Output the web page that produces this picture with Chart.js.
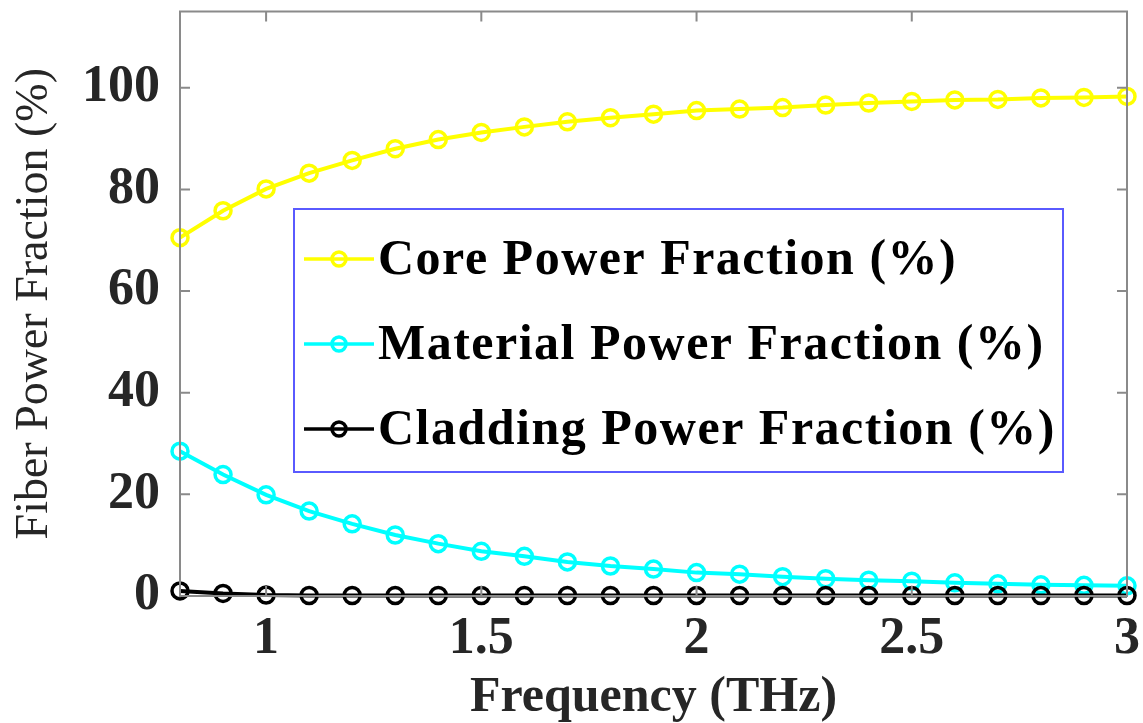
<!DOCTYPE html>
<html>
<head>
<meta charset="utf-8">
<script src="https://cdn.jsdelivr.net/npm/chart.js@4.4.1/dist/chart.umd.min.js"></script>
<style>
  body { margin: 0; background: #fff; }
  #wrap { width: 1143px; height: 723px; }
</style>
</head>
<body>
<div id="wrap"><canvas id="fractionChart" width="1143" height="723"></canvas></div>
<script>
// Data
const frequency = [0.8, 0.9, 1.0, 1.1, 1.2, 1.3, 1.4, 1.5, 1.6, 1.7, 1.8, 1.9,
  2.0, 2.1, 2.2, 2.3, 2.4, 2.5, 2.6, 2.7, 2.8, 2.9, 3.0];
const corePower = [70.5, 75.8, 80.1, 83.2, 85.7, 88.0, 89.8, 91.2, 92.3, 93.3, 94.1, 94.8,
  95.5, 95.8, 96.1, 96.6, 97.0, 97.3, 97.6, 97.7, 98.0, 98.1, 98.3];
const materialPower = [28.5, 23.9, 19.9, 16.7, 14.2, 12.0, 10.3, 8.8, 7.8, 6.7, 5.9, 5.3,
  4.6, 4.3, 3.8, 3.4, 3.1, 2.9, 2.6, 2.4, 2.2, 2.1, 2.0];
const claddingPower = [1.0, 0.5, 0.2, 0.1, 0.1, 0.1, 0.1, 0.1, 0.1, 0.1, 0.1, 0.1,
  0.1, 0.1, 0.1, 0.1, 0.1, 0.1, 0.1, 0.1, 0.1, 0.1, 0.1];
const seriesLabels = ["Core Power Fraction (%)", "Material Power Fraction (%)", "Cladding Power Fraction (%)"];
const xTickValues = [1, 1.5, 2, 2.5, 3];
const yTickValues = [0, 20, 40, 60, 80, 100];

const serif = "'Liberation Serif', 'Times New Roman', serif";
const axisGray = "#8a8a8a";

const toPoints = (ys) => frequency.map((x, i) => ({ x: x, y: ys[i] }));

const makeSeries = (label, ys, color, order) => ({
  label: label,
  data: toPoints(ys),
  borderColor: color,
  backgroundColor: "rgba(0,0,0,0)",
  borderWidth: 4,
  pointRadius: 8,
  pointBorderWidth: 3.5,
  pointBackgroundColor: "rgba(0,0,0,0)",
  pointBorderColor: color,
  tension: 0,
  clip: false,
  order: order,
});

// MATLAB-like box with inward ticks
const boxPlugin = {
  id: "box",
  afterDatasetsDraw(chart) {
    const { ctx, chartArea: a, scales } = chart;
    const len = 10;
    ctx.save();
    ctx.strokeStyle = axisGray;
    ctx.lineWidth = 2;
    ctx.strokeRect(a.left, a.top, a.right - a.left, a.bottom - a.top);
    ctx.beginPath();
    xTickValues.forEach((v) => {
      const px = scales.x.getPixelForValue(v);
      ctx.moveTo(px, a.bottom); ctx.lineTo(px, a.bottom - len);
      ctx.moveTo(px, a.top); ctx.lineTo(px, a.top + len);
    });
    yTickValues.forEach((v) => {
      const py = scales.y.getPixelForValue(v);
      ctx.moveTo(a.left, py); ctx.lineTo(a.left + len, py);
      ctx.moveTo(a.right, py); ctx.lineTo(a.right - len, py);
    });
    ctx.stroke();
    ctx.restore();
  },
};

// Legend box inside the axes
const legendPlugin = {
  id: "insideLegend",
  afterDraw(chart) {
    const { ctx } = chart;
    const box = { x: 294, y: 209, w: 769, h: 263 };
    ctx.save();
    ctx.fillStyle = "#fff";
    ctx.fillRect(box.x, box.y, box.w, box.h);
    ctx.strokeStyle = "#5a5aff";
    ctx.lineWidth = 2;
    ctx.strokeRect(box.x, box.y, box.w, box.h);
    ctx.font = "bold 50px " + serif;
    ctx.letterSpacing = "1.5px";
    ctx.textBaseline = "middle";
    ctx.fillStyle = "#000";
    chart.data.datasets.forEach((ds, i) => {
      const cy = box.y + 50 + i * 85;
      ctx.strokeStyle = ds.borderColor;
      ctx.lineWidth = 3.5;
      ctx.beginPath();
      ctx.moveTo(box.x + 10, cy);
      ctx.lineTo(box.x + 80, cy);
      ctx.stroke();
      ctx.beginPath();
      ctx.arc(box.x + 45, cy, 7, 0, Math.PI * 2);
      ctx.stroke();
      ctx.fillText(ds.label, box.x + 84, cy + 2);
    });
    ctx.restore();
  },
};

const initChart = () => {
  const ctx = document.getElementById("fractionChart").getContext("2d");
  new Chart(ctx, {
    type: "line",
    data: {
      datasets: [
        makeSeries(seriesLabels[0], corePower, "#ffff00", 3),
        makeSeries(seriesLabels[1], materialPower, "#00ffff", 2),
        makeSeries(seriesLabels[2], claddingPower, "#000000", 1),
      ],
    },
    options: {
      responsive: false,
      animation: false,
      layout: { padding: { top: 10, right: 16, left: 0, bottom: 0 } },
      plugins: { legend: { display: false }, tooltip: { enabled: false } },
      scales: {
        x: {
          type: "linear",
          min: 0.8,
          max: 3,
          afterBuildTicks: (s) => { s.ticks = xTickValues.map((v) => ({ value: v })); },
          afterFit: (s) => { s.height = 127; s.paddingLeft = 0; s.paddingRight = 0; },
          grid: { display: false, drawTicks: false },
          border: { display: false },
          ticks: {
            padding: 12,
            color: "#262626",
            font: { family: serif, size: 52, weight: "bold" },
            callback: (v) => String(v),
          },
          title: {
            display: true,
            text: "Frequency (THz)",
            color: "#262626",
            padding: 0,
            font: { family: serif, size: 50, weight: "bold", lineHeight: 1 },
          },
        },
        y: {
          type: "linear",
          min: 0,
          max: 115,
          afterBuildTicks: (s) => { s.ticks = yTickValues.map((v) => ({ value: v })); },
          afterFit: (s) => { s.width = 180; s.paddingTop = 0; s.paddingBottom = 0; },
          grid: { display: false, drawTicks: false },
          border: { display: false },
          ticks: {
            padding: 20,
            color: "#262626",
            font: { family: serif, size: 52, weight: "bold" },
          },
          title: {
            display: true,
            text: "Fiber Power Fraction (%)",
            color: "#262626",
            padding: { top: 7, bottom: 0 },
            font: { family: serif, size: 46, weight: "normal" },
          },
        },
      },
    },
    plugins: [boxPlugin, legendPlugin],
  });
};

document.addEventListener("DOMContentLoaded", () => {
  initChart();
});
</script>
</body>
</html>
